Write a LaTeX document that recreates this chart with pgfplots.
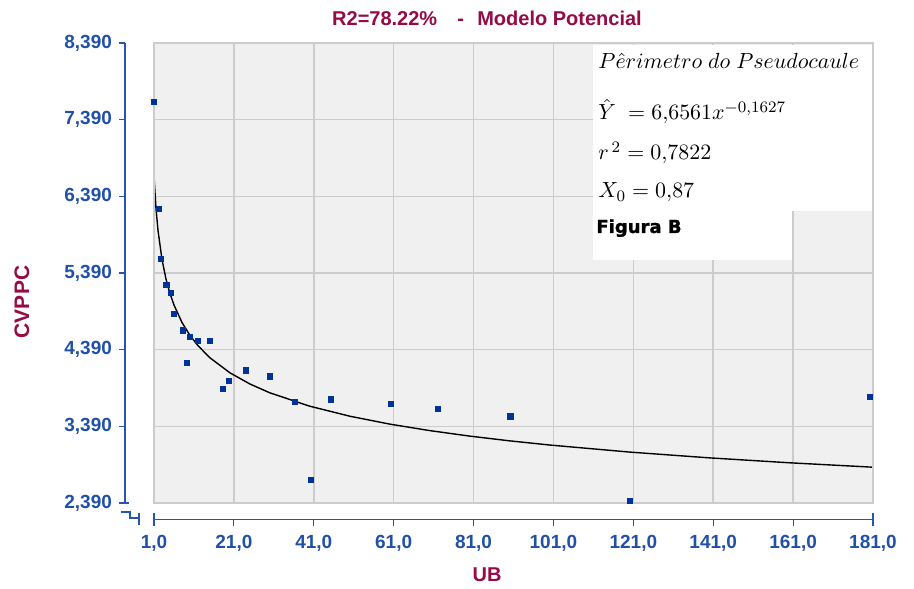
\documentclass[border=0pt]{standalone}
\usepackage{fontspec}
\setmainfont{Liberation Sans}
\newfontfamily\djv{DejaVu Sans}[BoldFeatures={FakeBold=1.2}]
\usepackage{pgfplots}
\pgfplotsset{compat=1.18}
\definecolor{ttl}{RGB}{150,10,70}
\definecolor{tickblue}{RGB}{32,80,168}
\definecolor{axblue}{RGB}{40,85,175}
\definecolor{mk}{RGB}{0,51,153}
\definecolor{bg}{RGB}{240,240,240}
\definecolor{gridc}{RGB}{204,204,204}
\begin{document}
\begin{tikzpicture}
\begin{axis}[
  at={(0,0)}, anchor=south west,
  scale only axis, width=359.5pt, height=230pt,
  xmin=1, xmax=181, ymin=2.39, ymax=8.39,
  xtick={1,21,...,181},
  ytick={2.39,3.39,4.39,5.39,6.39,7.39,8.39},
  axis lines*=left,
  axis x line shift=8.25pt,
  axis y line shift=14.5pt,
  axis line style={axblue, line width=0.6pt},
  tick style={axblue, line width=0.6pt},
  tick align=outside,
  major tick length=3pt,
  grid=major,
  major grid style={gridc, line width=0.8pt},
  axis background/.style={fill=bg},
  ticklabel style={font=\fontsize{9.5}{11}\selectfont\bfseries, text=tickblue},
  xticklabel style={yshift=-1.5pt},
  /pgf/number format/assume math mode=true,
  xticklabel style={/pgf/number format/fixed, /pgf/number format/fixed zerofill, /pgf/number format/precision=1, /pgf/number format/use comma},
  yticklabel style={/pgf/number format/fixed, /pgf/number format/fixed zerofill, /pgf/number format/precision=3, /pgf/number format/use comma},
  clip=false,
]
\addplot[black, line width=0.7pt, no markers] coordinates {
(1,6.6561) (1.5,6.2312) (2,5.9462) (3,5.5666) (4,5.3121) (5,5.1228) (6,4.9731)
(8,4.7456) (10,4.5765) (12,4.4426) (15,4.2842) (20,4.0883) (25,3.9425) (30,3.8273)
(40,3.6523) (50,3.5222) (60,3.4192) (70,3.3345) (80,3.2628) (90,3.2009) (100,3.1465)
(120,3.0545) (140,2.9789) (160,2.9148) (181,2.8569)
};
\addplot[only marks, mark=square*, mark size=1.3pt, mk] coordinates {
(1,7.62) (2.2,6.23) (2.8,5.57) (4.1,5.23) (5.2,5.13) (5.9,4.86) (8.3,4.64) (9.2,4.22)
(9.9,4.56) (11.9,4.50) (15.0,4.50) (18.2,3.88) (19.8,3.98) (24.1,4.12) (30.0,4.04)
(36.2,3.71) (40.2,2.69) (45.3,3.74) (60.3,3.68) (72.1,3.62) (90.2,3.52) (120.1,2.42)
(180.3,3.77)
};
\fill[white] (rel axis cs:0.6106,0.635) rectangle (rel axis cs:1,0.995);
\fill[white] (rel axis cs:0.6106,0.528) rectangle (rel axis cs:0.887,0.635);
\draw[gridc, line width=1pt] (rel axis cs:0,0) rectangle (rel axis cs:1,1);
\end{axis}
% annotation
\node[anchor=base west, inner sep=0pt] at (222pt,217.4pt) {\fontsize{11}{13}\selectfont $P\hat{e}rimetro\ do\ Pseudocaule$};
\node[anchor=base west, inner sep=0pt] at (222pt,191.5pt) {\fontsize{11}{13}\selectfont $\hat{Y}\ = 6{,}6561x^{-0{,}1627}$};
\node[anchor=base west, inner sep=0pt] at (222pt,171.5pt) {\fontsize{11}{13}\selectfont $r^{\,2} = 0{,}7822$};
\node[anchor=base west, inner sep=0pt] at (222pt,152.5pt) {\fontsize{11}{13}\selectfont $X_0 = 0{,}87$};
\node[anchor=base west, inner sep=0pt] at (221pt,135pt) {\djv\fontsize{9}{11}\selectfont\bfseries Figura B};
% titles
\node[text=ttl] at (166.5pt,242.5pt) {\fontsize{10}{12}\selectfont\bfseries R2=78.22\%\hspace{1em}-\hspace{0.67em}Modelo Potencial};
\node[text=ttl] at (166.5pt,-36pt) {\fontsize{10}{12}\selectfont\bfseries UB};
\node[text=ttl, rotate=90] at (-66pt,100.5pt) {\fontsize{10.5}{12}\selectfont\bfseries CVPPC};
% axis break and caps
\draw[axblue, line width=0.6pt] (-16.5pt,0pt) -- (-12.5pt,0pt);
\draw[axblue, line width=0.6pt] (-16.5pt,-4.5pt) -- (-12pt,-4.5pt) -- (-12pt,-7.5pt) -- (-7.5pt,-7.5pt);
\draw[axblue, line width=0.6pt] (-7.5pt,-5pt) -- (-7.5pt,-11pt);
\draw[axblue, line width=0.6pt] (0pt,-5pt) -- (0pt,-11.5pt);
\draw[axblue, line width=0.6pt] (359.5pt,-5pt) -- (359.5pt,-11.5pt);
\pgfresetboundingbox
\path (-77pt,-42.5pt) rectangle (380pt,251.5pt);
\end{tikzpicture}
\end{document}
